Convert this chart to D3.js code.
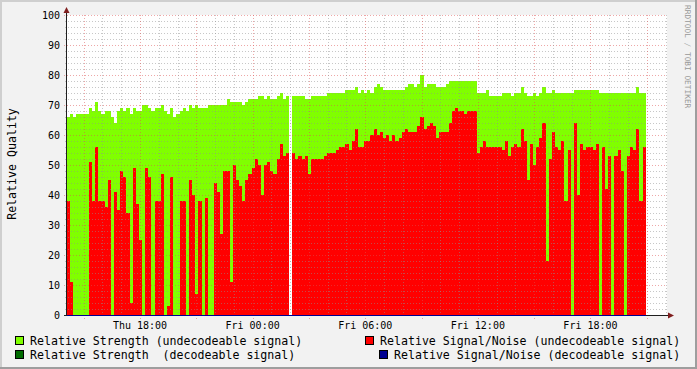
<!DOCTYPE html>
<html>
<head>
<meta charset="utf-8">
<script src="https://cdn.jsdelivr.net/npm/d3@7"></script>
<style>
  body { margin: 0; background: #f2f2f2; }
  svg { display: block; }
  text { font-family: "DejaVu Sans Mono", monospace; }
</style>
</head>
<body>
<svg id="chart" width="697" height="369"></svg>
<script>
// one value per 10 minute step, starting Thu 14:06:40
var stepMinutes = 10;
var dataStart = Date.UTC(2010, 0, 7, 14, 6, 40);

var strengthUndecodeable = [
  66, 67, 66, 67, 67, 67, 67, 69, 68, 71, 68, 67, 68, 68, 66, 64, 68, 69, 68, 69,
  67, 69, 68, 68, 70, 70, 69, 68, 69, 69, 70, 68, 67, 69, 66, 67, 68, 69, 68, 70,
  69, 70, 69, 69, 69, 70, 70, 70, 70, 70, 70, 72, 71, 71, 71, 71, 70, 71, 72, 72,
  72, 73, 73, 72, 73, 72, 72, 73, 74, 72, 73, null, 73, 73, 73, 73, 72, 72, 73, 73,
  73, 73, 73, 74, 74, 74, 74, 74, 74, 75, 75, 75, 76, 74, 75, 74, 75, 74, 76, 77,
  76, 75, 75, 75, 75, 75, 75, 75, 76, 77, 77, 76, 77, 80, 76, 77, 77, 77, 76, 76,
  76, 77, 78, 78, 78, 78, 78, 78, 78, 78, 78, 74, 74, 74, 75, 73, 73, 73, 73, 74,
  74, 74, 73, 74, 74, 76, 74, 73, 73, 74, 73, 74, 76, 74, 74, 75, 74, 74, 74, 74,
  74, 74, 75, 75, 75, 75, 75, 75, 75, 75, 74, 74, 74, 74, 74, 74, 74, 74, 74, 74,
  74, 74, 76, 74, 74
];

var snrUndecodeable = [
  38, 11, 0, 0, 0, 0, 0, 51, 38, 56, 38, 38, 36, 45, 0, 41, 35, 48, 46, 34,
  4, 49, 37, 25, 0, 49, 46, 0, 38, 38, 47, 0, 3, 46, 0, 0, 38, 38, 0, 45,
  40, 7, 38, 0, 39, 0, 0, 44, 41, 27, 48, 48, 11, 50, 45, 43, 38, 45, 47, 49,
  52, 50, 40, 50, 51, 48, 47, 52, 57, 53, 54, null, 54, 52, 53, 52, 53, 47, 52, 52,
  52, 52, 53, 54, 54, 54, 55, 56, 56, 57, 55, 58, 62, 56, 56, 58, 58, 60, 62, 60,
  61, 59, 60, 58, 60, 58, 59, 61, 62, 61, 61, 61, 63, 66, 62, 63, 64, 63, 59, 61,
  61, 61, 64, 68, 69, 68, 68, 67, 68, 68, 68, 54, 56, 58, 56, 56, 56, 56, 56, 55,
  58, 53, 56, 57, 56, 62, 58, 45, 57, 50, 56, 59, 64, 18, 52, 61, 56, 55, 58, 38,
  55, 0, 64, 40, 57, 55, 56, 56, 55, 57, 0, 56, 42, 53, 0, 53, 55, 48, 0, 53,
  56, 55, 62, 38, 56
];

// no decodeable signal in this period
var strengthDecodeable = [];
var snrDecodeable = [];

var yTickValues = [0, 10, 20, 30, 40, 50, 60, 70, 80, 90, 100];
var yTitle = "Relative Quality";
var legendLabels = [
  "Relative Strength (undecodeable signal)",
  "Relative Signal/Noise (undecodeable signal)",
  "Relative Strength  (decodeable signal)",
  "Relative Signal/Noise (decodeable signal)"
];
var watermark = "RRDTOOL / TOBI OETIKER";

var colors = {
  back: "#f2f2f2", canvas: "#ffffff", shadeA: "#cfcfcf", shadeB: "#9e9e9e",
  grid: "rgba(143,143,143,0.5)", mgrid: "rgba(222,79,79,0.5)",
  arrow: "#801f1f", axis: "#1f1f1f",
  strength: "#80ff00", snr: "#ff0000", strengthDec: "#006b00", snrDec: "#000090"
};

var svg = d3.select("#chart");
var W = 697, H = 369;
var plotLeft = 67, plotRight = 667, plotTop = 15, plotBottom = 315;

var x = d3.scaleUtc()
  .domain([new Date(Date.UTC(2010, 0, 7, 14, 6, 40)), new Date(Date.UTC(2010, 0, 8, 22, 4, 40))])
  .range([plotLeft, plotRight]);
var y = d3.scaleLinear().domain([0, 100]).range([plotBottom, plotTop]);

function binTime(i) {
  return new Date(dataStart + i * stepMinutes * 60000);
}

// frame
svg.append("rect").attr("width", W).attr("height", H).attr("fill", colors.back);
svg.append("path").attr("d", "M0,1H" + W + "M1,0V" + H).attr("stroke", colors.shadeA).attr("stroke-width", 2);
svg.append("path").attr("d", "M0," + (H - 1) + "H" + W + "M" + (W - 1) + ",0V" + H).attr("stroke", colors.shadeB).attr("stroke-width", 2);
svg.append("rect").attr("x", plotLeft).attr("y", plotTop)
  .attr("width", plotRight - plotLeft).attr("height", plotBottom - plotTop).attr("fill", colors.canvas);

function drawSeries(values, color) {
  var pts = values.map(function (v, i) { return { v: v, i: i }; })
    .filter(function (d) { return d.v !== null && d.v > 0; });
  svg.append("g")
    .attr("shape-rendering", "crispEdges")
    .selectAll("rect")
    .data(pts)
    .enter()
    .append("rect")
    .attr("x", function (d) { return Math.round(x(binTime(d.i))); })
    .attr("width", function (d) { return Math.round(x(binTime(d.i + 1))) - Math.round(x(binTime(d.i))); })
    .attr("y", function (d) { return Math.round(y(d.v)); })
    .attr("height", function (d) { return y(0) - Math.round(y(d.v)); })
    .attr("fill", color);
}

drawSeries(strengthUndecodeable, colors.strength);
drawSeries(snrUndecodeable, colors.snr);
drawSeries(strengthDecodeable, colors.strengthDec);
drawSeries(snrDecodeable, colors.snrDec);

// grid on top of the data
var grid = svg.append("g").attr("fill", "none").attr("stroke-width", 1);
d3.range(2, 101, 2).forEach(function (v) {
  var major = v % 10 === 0;
  var yy = Math.round(y(v)) + 0.5;
  grid.append("line")
    .attr("x1", major ? plotLeft - 3 : plotLeft - 2).attr("x2", plotRight)
    .attr("y1", yy).attr("y2", yy)
    .attr("stroke", major ? colors.mgrid : colors.grid)
    .attr("stroke-dasharray", "1,2");
});
x.ticks(d3.utcHour.every(1)).forEach(function (t) {
  var major = t.getUTCHours() % 3 === 0;
  var xx = Math.round(x(t)) + 0.5;
  grid.append("line")
    .attr("x1", xx).attr("x2", xx)
    .attr("y1", plotTop).attr("y2", major ? plotBottom + 4 : plotBottom + 3)
    .attr("stroke", major ? colors.mgrid : colors.grid)
    .attr("stroke-dasharray", "1,2");
});

// axes with arrows
svg.append("line").attr("x1", plotLeft - 0.5).attr("x2", plotLeft - 0.5).attr("y1", plotBottom).attr("y2", 10)
  .attr("stroke", colors.axis);
svg.append("line").attr("x1", plotLeft - 3).attr("x2", 670).attr("y1", plotBottom + 0.5).attr("y2", plotBottom + 0.5)
  .attr("stroke", colors.axis);
svg.append("line").attr("x1", plotLeft).attr("x2", Math.round(x(binTime(strengthUndecodeable.length))))
  .attr("y1", plotBottom + 0.5).attr("y2", plotBottom + 0.5).attr("stroke", colors.snrDec);
svg.append("path").attr("d", "M63.5,13L69.5,13L66.5,7Z").attr("fill", colors.arrow);
svg.append("path").attr("d", "M668,312.5L668,318.5L674,315.5Z").attr("fill", colors.arrow);

// tick labels
svg.append("g").selectAll("text").data(yTickValues).enter().append("text")
  .attr("x", 60).attr("y", function (d) { return y(d); })
  .attr("dy", "0.35em").attr("text-anchor", "end")
  .attr("font-size", 10).attr("fill", "#000")
  .text(function (d) { return d; });

var fmt = d3.utcFormat("%a %H:%M");
svg.append("g").selectAll("text").data(x.ticks(d3.utcHour.every(6))).enter().append("text")
  .attr("x", function (d) { return x(d); }).attr("y", 325)
  .attr("dy", "0.35em").attr("text-anchor", "middle")
  .attr("font-size", 10).attr("fill", "#000")
  .text(function (d) { return fmt(d); });

svg.append("text")
  .attr("transform", "translate(16,164) rotate(-90)")
  .attr("text-anchor", "middle").attr("font-size", 11.6).attr("fill", "#000")
  .text(yTitle);

svg.append("text")
  .attr("transform", "translate(684.5,5) rotate(90)")
  .attr("font-size", 7.8).attr("fill", "#999999")
  .text(watermark);

// legend
var legendPos = [
  { bx: 15, tx: 30, y: 341 },
  { bx: 365, tx: 380, y: 341 },
  { bx: 15, tx: 30, y: 355 },
  { bx: 379, tx: 394, y: 355 }
];
var legendColors = [colors.strength, colors.snr, colors.strengthDec, colors.snrDec];
var lg = svg.append("g");
legendLabels.forEach(function (label, i) {
  var p = legendPos[i];
  lg.append("rect")
    .attr("x", p.bx + 0.5).attr("y", p.y - 4.5).attr("width", 8).attr("height", 8)
    .attr("fill", legendColors[i]).attr("stroke", "#000");
  lg.append("text")
    .attr("x", p.tx).attr("y", p.y).attr("dy", "0.35em")
    .attr("font-size", 11.6).attr("fill", "#000")
    .attr("xml:space", "preserve").style("white-space", "pre")
    .text(label);
});
</script>
</body>
</html>
